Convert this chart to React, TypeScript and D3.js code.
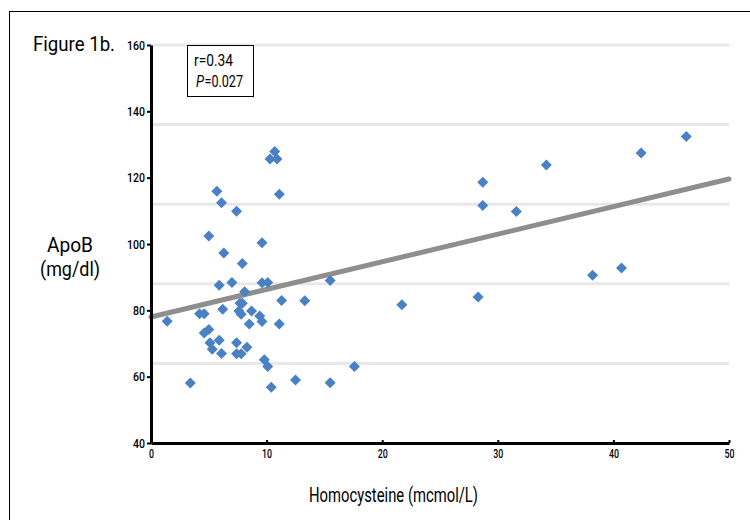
import React, { useEffect, useRef } from "react";
import * as d3 from "d3";

// homocysteine (x) and ApoB (y) for every subject
const homocysteine = [
  1.4, 3.4, 4.2, 4.6, 4.6, 5.0, 5.1, 5.3, 5.9, 6.1, 6.2, 5.9, 7.0, 7.4, 7.4,
  7.8, 7.7, 7.9, 7.6, 7.8, 8.1, 8.3, 8.5, 8.7, 9.4, 9.6, 9.8, 10.1, 10.1, 10.4,
  11.1, 11.3, 12.5, 13.3, 15.5, 15.5, 17.6, 21.7, 28.3, 28.7, 28.7, 31.6, 34.2,
  38.2, 40.7, 42.4, 46.3, 10.7, 10.3, 10.9, 5.7, 11.1, 6.1, 7.4, 5.0, 9.6, 6.3,
  7.9, 9.6,
];
const apoB = [
  76.7, 58.1, 79.0, 79.0, 73.2, 74.2, 70.2, 68.3, 71.0, 67.0, 80.3, 87.6, 88.4,
  70.2, 66.9, 66.9, 82.1, 82.1, 79.8, 78.8, 85.6, 68.9, 75.9, 79.8, 78.3, 76.6,
  65.1, 63.1, 88.4, 56.8, 75.9, 83.0, 59.0, 82.9, 58.2, 89.0, 63.1, 81.7, 84.0,
  118.6, 111.6, 109.8, 123.8, 90.6, 92.8, 127.4, 132.4, 127.9, 125.6, 125.6,
  115.9, 115.0, 112.4, 109.9, 102.4, 100.4, 97.3, 94.1, 88.3,
];

// fitted line end points
const trendX = [0, 50];
const trendY = [78, 119.6];

const xTicks = [0, 10, 20, 30, 40, 50];
const yTicks = [40, 60, 80, 100, 120, 140, 160];
const gridValues = [64, 88, 112, 136, 160];

const FONT = "Roboto, 'Liberation Sans', sans-serif";

// the original uses a condensed face; squeeze text to the measured width
function addLabel(svg, x, y, text, size, width, anchor = "start") {
  return svg
    .append("text")
    .attr("x", x)
    .attr("y", y)
    .attr("text-anchor", anchor)
    .attr("font-family", FONT)
    .attr("font-size", size)
    .attr("textLength", width)
    .attr("lengthAdjust", "spacingAndGlyphs")
    .text(text);
}

function ScatterChart() {
  const ref = useRef<SVGSVGElement>(null);

  useEffect(() => {
    const svg = d3.select(ref.current);
    svg.selectAll("*").remove();

    const x = d3.scaleLinear().domain([0, 50]).range([151, 729]);
    const y = d3.scaleLinear().domain([40, 160]).range([443, 45]);

    // outer frame of the figure
    svg
      .append("rect")
      .attr("x", 9.5)
      .attr("y", 11.5)
      .attr("width", 800)
      .attr("height", 600)
      .attr("fill", "white")
      .attr("stroke", "black")
      .attr("stroke-width", 1);

    // horizontal grid
    svg
      .append("g")
      .selectAll("line")
      .data(gridValues)
      .join("line")
      .attr("x1", x(0))
      .attr("x2", x(50))
      .attr("y1", (d) => y(d))
      .attr("y2", (d) => y(d))
      .attr("stroke", "#e8e8e8")
      .attr("stroke-width", 3);

    // trend line
    const line = d3
      .line<number>()
      .x((d, i) => x(trendX[i]))
      .y((d) => y(d));
    svg
      .append("path")
      .datum(trendY)
      .attr("d", line)
      .attr("fill", "none")
      .attr("stroke", "#8e8e8e")
      .attr("stroke-width", 5)
      .attr("stroke-linecap", "round");

    // points
    const diamond = "M0,-5.5L5.5,0L0,5.5L-5.5,0Z";
    svg
      .append("g")
      .selectAll("path")
      .data(homocysteine.map((h, i) => [h, apoB[i]]))
      .join("path")
      .attr("d", diamond)
      .attr("transform", (d) => `translate(${x(d[0])},${y(d[1])})`)
      .attr("fill", "#4a80c4");

    // y axis
    const yAxis = svg
      .append("g")
      .attr("transform", `translate(${x(0)},0)`)
      .call(d3.axisLeft(y).tickValues(yTicks).tickSizeInner(4).tickSizeOuter(0).tickPadding(2));
    yAxis.select(".domain").attr("stroke-width", 3);
    yAxis.selectAll(".tick line").attr("stroke-width", 2);
    yAxis
      .selectAll("text")
      .attr("font-family", FONT)
      .attr("font-size", 13)
      .attr("font-weight", 500)
      .attr("textLength", (d) => String(d).length * 6)
      .attr("lengthAdjust", "spacingAndGlyphs")
      .attr("fill", "black");

    // x axis
    const xAxis = svg
      .append("g")
      .attr("transform", `translate(0,${y(40)})`)
      .call(d3.axisBottom(x).tickValues(xTicks).tickSizeInner(-3).tickSizeOuter(0).tickPadding(6));
    xAxis.select(".domain").attr("stroke-width", 3);
    xAxis.selectAll(".tick line").attr("stroke-width", 2);
    xAxis
      .selectAll("text")
      .attr("font-family", FONT)
      .attr("font-size", 13)
      .attr("font-weight", 500)
      .attr("textLength", (d) => String(d).length * 5)
      .attr("lengthAdjust", "spacingAndGlyphs")
      .attr("fill", "black");

    // statistics box
    svg
      .append("rect")
      .attr("x", 187.5)
      .attr("y", 45.5)
      .attr("width", 66)
      .attr("height", 51)
      .attr("fill", "white")
      .attr("stroke", "black")
      .attr("stroke-width", 1);
    addLabel(svg, 194, 66, "r=0.34", 16, 39);
    addLabel(svg, 196, 87, "P", 16, 8).attr("font-style", "italic");
    addLabel(svg, 204.5, 87, "=0.027", 16, 38.5);

    // titles
    addLabel(svg, 33, 51, "Figure 1b.", 21, 82);
    addLabel(svg, 70, 252, "ApoB", 21, 46, "middle");
    addLabel(svg, 70, 276, "(mg/dl)", 21, 60, "middle");
    addLabel(svg, 393.5, 502, "Homocysteine (mcmol/L)", 21, 169, "middle");
  });

  return (
    <svg
      ref={ref}
      width={750}
      height={520}
      style={{ position: "absolute", left: 0, top: 0, background: "white" }}
    />
  );
}

export default function App() {
  return <ScatterChart />;
}
